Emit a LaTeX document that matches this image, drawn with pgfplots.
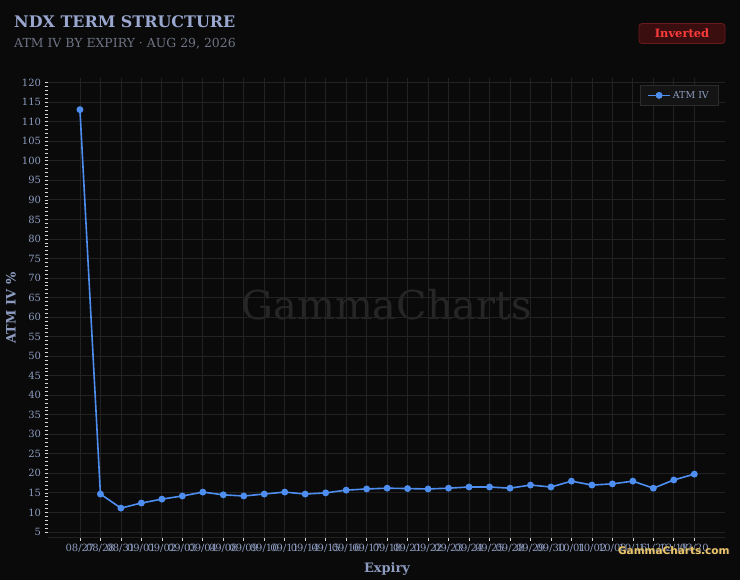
\documentclass[border=0pt]{standalone}
\usepackage{fontspec}
\setmainfont{DejaVu Serif}
\newfontfamily\wmsans{DejaVu Sans}
\usepackage{pgfplots}
\pgfplotsset{compat=1.18}
\definecolor{bg}{HTML}{0A0A0A}
\definecolor{gridc}{HTML}{222222}
\definecolor{tickc}{HTML}{8D9CC0}
\definecolor{titlec}{HTML}{9AA8D0}
\definecolor{subc}{HTML}{6E7484}
\definecolor{linec}{HTML}{4D8EF0}
\definecolor{tickw}{HTML}{D8D8D8}
\definecolor{legbg}{HTML}{141414}
\definecolor{legbd}{HTML}{2C2C2C}
\definecolor{badgebg}{HTML}{3A0D0F}
\definecolor{badgebd}{HTML}{6A1A1E}
\definecolor{badgetx}{HTML}{FF3B3B}
\definecolor{wm}{HTML}{262626}
\definecolor{gold}{HTML}{EAC468}
\begin{document}
\begin{tikzpicture}[x=1bp,y=1bp]
\fill[bg] (0,0) rectangle (740,-580);
\node[anchor=center, text=wm, font=\fontsize{40}{44}\selectfont] at (387,-305) {GammaCharts};
\begin{axis}[
  at={(48bp,-537bp)}, anchor=south west,
  scale only axis, width=677bp, height=459bp,
  xmin=-1.56, xmax=31.5, ymin=3.7, ymax=121.2,
  xtick={0,...,30},
  xticklabels={08/27,08/28,08/31,09/01,09/02,09/03,09/04,09/08,09/09,09/10,09/11,09/14,09/15,09/16,09/17,09/18,09/21,09/22,09/23,09/24,09/25,09/28,09/29,09/30,10/01,10/02,10/09,10/16,11/20,12/18,03/20},
  ytick={5,10,...,120},
  minor y tick num=4,
  grid=major,
  major grid style={draw=gridc, line width=0.8bp},
  tick align=outside,
  major tick length=3.5bp, minor tick length=3bp,
  tick style={draw=tickw, line width=0.7bp},
  x axis line style={draw=gridc, line width=1bp},
  axis x line*=bottom, axis y line*=left,
  y axis line style={draw=none},
  tick label style={text=tickc, font=\fontsize{10}{12}\selectfont},
  /pgf/number format/assume math mode=true,
  legend style={at={(1,1)}, anchor=north east, xshift=-7bp, yshift=-7bp,
    fill=legbg, draw=legbd, text=tickc, font=\fontsize{9.5}{11}\selectfont,
    inner xsep=7bp, inner ysep=4bp},
  legend image code/.code={\draw[#1, mark repeat=2, mark phase=2] plot coordinates {(0bp,0bp)(11bp,0bp)(22bp,0bp)};},
  legend cell align=left,
  clip=false,
]
\addplot[color=linec, line width=1.6bp, mark=*, mark size=2.6bp, mark options={fill=linec, draw=linec}]
  table[x index=0, y index=1] {
0 113.1
1 14.7
2 11.1
3 12.4
4 13.4
5 14.2
6 15.2
7 14.5
8 14.2
9 14.7
10 15.2
11 14.7
12 15.0
13 15.7
14 16.0
15 16.2
16 16.1
17 16.0
18 16.2
19 16.5
20 16.5
21 16.2
22 17.0
23 16.5
24 18.0
25 17.0
26 17.3
27 18.0
28 16.2
29 18.3
30 19.8
};
\addlegendentry{ATM IV}
\end{axis}
\node[anchor=base west, inner sep=0pt, text=titlec, font=\bfseries\fontsize{16}{19}\selectfont] at (14,-27.7) {NDX TERM STRUCTURE};
\node[anchor=base west, inner sep=0pt, text=subc, font=\fontsize{12.5}{15}\selectfont] at (14,-47.3) {ATM IV BY EXPIRY · AUG 29, 2026};
\node[draw=badgebd, fill=badgebg, rounded corners=3bp, text=badgetx, line width=0.8bp,
  font=\bfseries\fontsize{11.5}{13}\selectfont, minimum width=86bp, minimum height=20bp, inner sep=0pt] at (682,-33.5) {Inverted};
\node[rotate=90, text=tickc, font=\bfseries\fontsize{13}{15}\selectfont] at (11,-308) {ATM IV \%};
\node[anchor=base, text=tickc, font=\bfseries\fontsize{13}{15}\selectfont] at (387,-572) {Expiry};
\node[anchor=base east, text=black!80, font=\wmsans\bfseries\fontsize{10.5}{12}\selectfont] at (733.8,-554.8) {GammaCharts.com};
\node[anchor=base east, text=gold, font=\wmsans\bfseries\fontsize{10.5}{12}\selectfont] at (733,-554) {GammaCharts.com};
\pgfresetboundingbox
\useasboundingbox (0,0) rectangle (740,-580);
\end{tikzpicture}
\end{document}
